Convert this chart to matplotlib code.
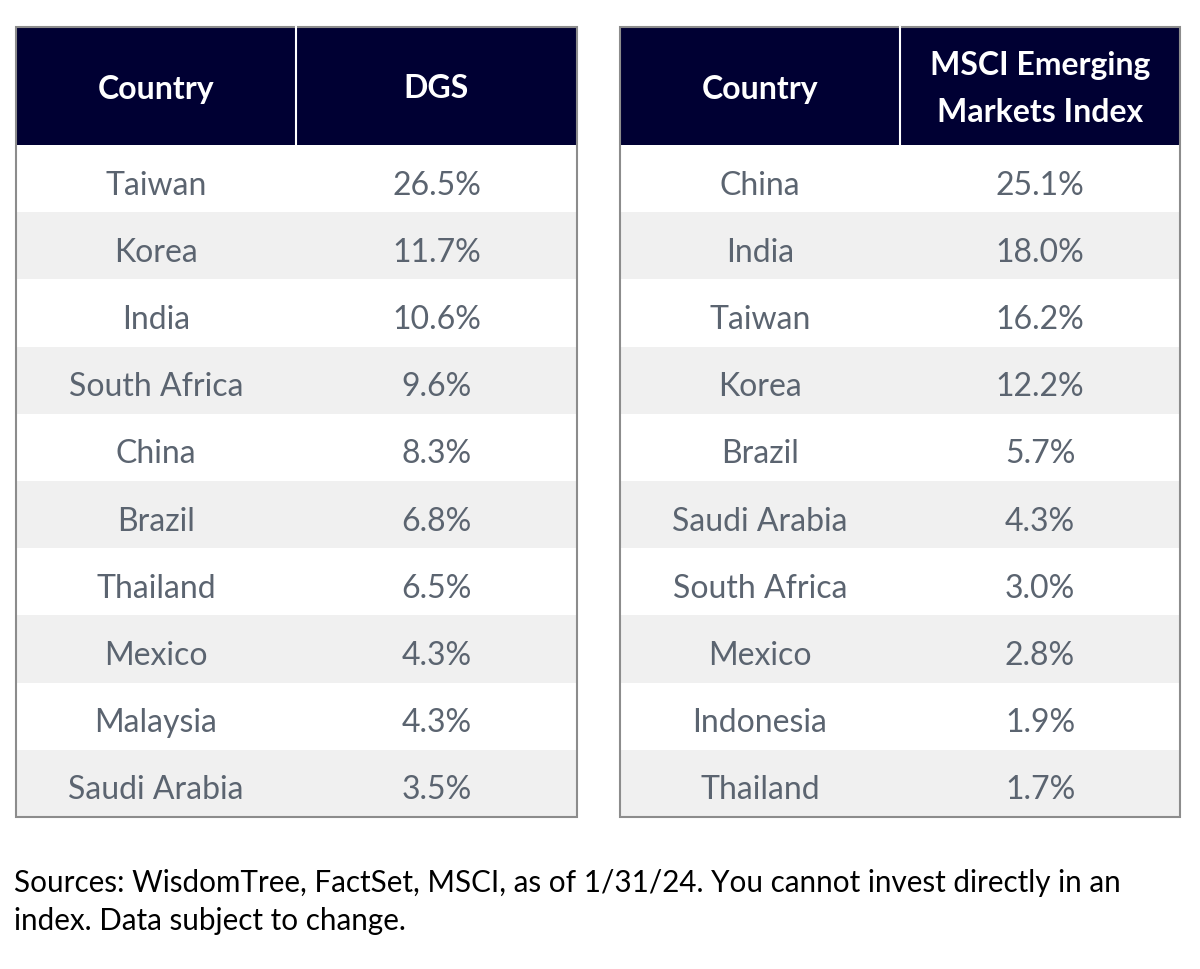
import matplotlib.pyplot as plt
from matplotlib.patches import Rectangle

# Datos de las dos tablas
dgs_countries = ["Taiwan", "Korea", "India", "South Africa", "China",
                 "Brazil", "Thailand", "Mexico", "Malaysia", "Saudi Arabia"]
dgs_weights = [26.5, 11.7, 10.6, 9.6, 8.3, 6.8, 6.5, 4.3, 4.3, 3.5]

msci_countries = ["China", "India", "Taiwan", "Korea", "Brazil",
                  "Saudi Arabia", "South Africa", "Mexico", "Indonesia", "Thailand"]
msci_weights = [25.1, 18.0, 16.2, 12.2, 5.7, 4.3, 3.0, 2.8, 1.9, 1.7]

headers_left = ["Country", "DGS"]
headers_right = ["Country", "MSCI Emerging\nMarkets Index"]
footnote = ("Sources: WisdomTree, FactSet, MSCI, as of 1/31/24. You cannot invest directly in an\n"
            "index. Data subject to change.")

navy = "#000033"
grey_row = "#f0f0f0"
text_col = "#5b6470"
border = "#8c8c8c"

plt.rcParams['font.family'] = ['Lato', 'DejaVu Sans']

fig = plt.figure(figsize=(12, 9.7), dpi=100)
ax = fig.add_axes([0, 0, 1, 1])
ax.set_xlim(0, 1200)
ax.set_ylim(970, 0)
ax.axis('off')

top = 28
head_h = 118
row_h = 67.2


def draw_table(x0, x_mid, x1, headers, names, vals):
    # cabecera
    ax.add_patch(Rectangle((x0, top), x1 - x0, head_h, facecolor=navy, edgecolor='none'))
    ax.plot([x_mid, x_mid], [top, top + head_h], color='white', lw=1.5)
    ax.text((x0 + x_mid) / 2, top + head_h / 2 + 2, headers[0], color='white',
            fontsize=23, fontweight='bold', ha='center', va='center')
    ax.text((x_mid + x1) / 2, top + head_h / 2 + 2, headers[1], color='white',
            fontsize=23, fontweight='bold', ha='center', va='center', linespacing=1.75)
    # filas
    for i, (n, v) in enumerate(zip(names, vals)):
        y = top + head_h + i * row_h
        fc = 'white' if i % 2 == 0 else grey_row
        ax.add_patch(Rectangle((x0, y), x1 - x0, row_h, facecolor=fc, edgecolor='none'))
        ax.text((x0 + x_mid) / 2, y + row_h / 2 + 6, n, color=text_col,
                fontsize=23, ha='center', va='center')
        ax.text((x_mid + x1) / 2, y + row_h / 2 + 6, f"{v:.1f}%", color=text_col,
                fontsize=23, ha='center', va='center')
    bottom = top + head_h + len(names) * row_h
    ax.add_patch(Rectangle((x0, top), x1 - x0, bottom - top, facecolor='none',
                           edgecolor=border, lw=1.5))


draw_table(16, 296, 577, headers_left, dgs_countries, dgs_weights)
draw_table(620, 900, 1180, headers_right, msci_countries, msci_weights)

ax.text(14, 902, footnote, color='black', fontsize=21.3, ha='left', va='center',
        linespacing=1.4)

fig.savefig("out.png", dpi=100)
